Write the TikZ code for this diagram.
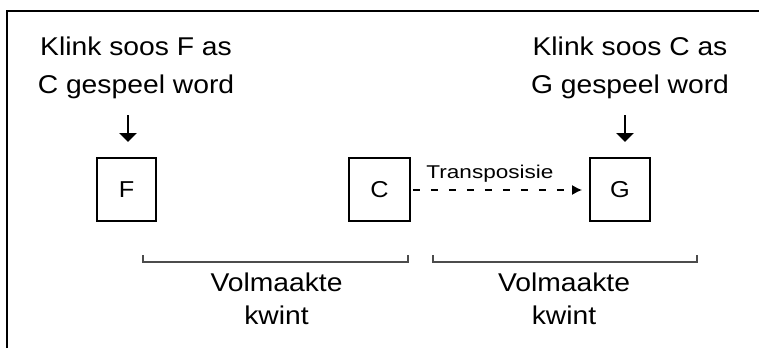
\documentclass[tikz,border=0pt]{standalone}
\usepackage{fontspec}
\setmainfont{Liberation Sans}
\newfontfamily\lblfont[FakeStretch=1.1]{Liberation Sans}
\newfontfamily\smallfont[FakeStretch=1.22]{Liberation Sans}
\usetikzlibrary{arrows.meta}
\begin{document}
\begin{tikzpicture}[x=1pt,y=-1pt,
  lbl/.style={font=\lblfont\fontsize{25.7}{30}\selectfont, anchor=base, inner sep=0pt},
  notebox/.style={draw, line width=1.8pt, minimum width=59pt, minimum height=63pt, inner sep=0pt, font=\lblfont\fontsize{23}{26}\selectfont},
  pointer/.style={line width=2.5pt, -{Triangle[length=9pt,width=17pt]}},
  transp/.style={line width=1.2pt, dash pattern=on 7pt off 11pt, -{Latex[length=10pt,width=10pt]}},
  brace/.style={line width=1.2pt, draw=black!70},
  frameline/.style={line width=2pt}]
\useasboundingbox (0,0) rectangle (759,348);
\fill[white] (0,0) rectangle (759,348);
% frame
\draw[frameline] (7,348) -- (7,11) -- (759,11);
% top labels
\node[lbl] (l1) at (136,55) {Klink soos F as};
\node[lbl] (l2) at (136,93.5) {C gespeel word};
\node[lbl] (r1) at (630,55) {Klink soos C as};
\node[lbl] (r2) at (630,93.5) {G gespeel word};
% boxes
\node[notebox] (F) at (126.5,189.5) {F};
\node[notebox, minimum width=61pt] (C) at (379.5,189.5) {C};
\node[notebox, minimum width=60pt] (G) at (620,189.5) {G};
% pointers
\coordinate (ps) at (128,115);
\coordinate (pe) at (128,142);
\coordinate (qs) at (625,115);
\coordinate (qe) at (625,142);
\draw[pointer] (ps) -- (pe);
\draw[pointer] (qs) -- (qe);
% transposition
\coordinate (te) at (582,190);
\draw[transp] (C.east |- te) ++(2pt,0) -- (te);
\node[font=\smallfont\fontsize{18.5}{22}\selectfont, anchor=base, inner sep=0pt] (tl) at (490,178) {Transposisie};
% brackets
\draw[brace] (143,255) -- (143,262) -- (408,262) -- (408,255);
\draw[brace] (433,255) -- (433,262) -- (697,262) -- (697,255);
\node[lbl] (v1) at (276.5,291.5) {Volmaakte};
\node[lbl] (k1) at (276.5,324) {kwint};
\node[lbl] (v2) at (564,291.5) {Volmaakte};
\node[lbl] (k2) at (564,324) {kwint};
\end{tikzpicture}
\end{document}
